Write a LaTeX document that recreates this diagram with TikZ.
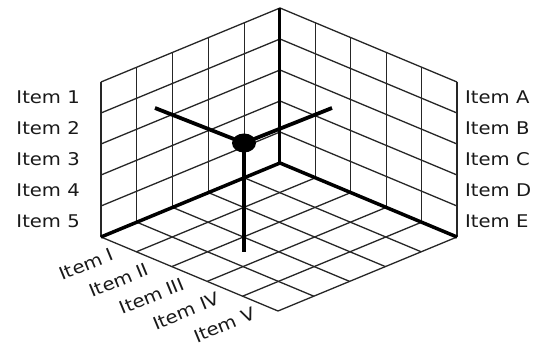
\documentclass[tikz,border=0pt]{standalone}
\usepackage{fontspec}
\usetikzlibrary{shapes.geometric}
\setmainfont{DejaVu Sans}
\newcommand\lbltxt[1]{\scalebox{1.12}[1]{#1}}
\begin{document}
\begin{tikzpicture}[
  x={(-35.8pt,-14.8pt)}, y={(35.4pt,-14.8pt)}, z={(0pt,31pt)},
  gridline/.style={line width=1.3pt, black!85},
  axisline/.style={line width=3.5pt, black},
  pointer/.style={line width=3.8pt, black},
  lbl/.style={font=\fontsize{17.5}{19}\selectfont, text=black!90, inner sep=0pt},
]
\useasboundingbox (-280pt,-189pt) rectangle (267pt,163pt);
\fill[white] (-280pt,-189pt) rectangle (267pt,163pt);
% left wall (x-z plane)
\foreach \i in {0,...,5} {
  \draw[gridline] (\i,0,0) -- (\i,0,5);
  \draw[gridline] (0,0,\i) -- (5,0,\i);
}
% right wall (y-z plane)
\foreach \i in {0,...,5} {
  \draw[gridline] (0,\i,0) -- (0,\i,5);
  \draw[gridline] (0,0,\i) -- (0,5,\i);
}
% floor (x-y plane)
\foreach \i in {0,...,5} {
  \draw[gridline] (\i,0,0) -- (\i,5,0);
  \draw[gridline] (0,\i,0) -- (5,\i,0);
}
% axes
\coordinate (O) at (0,0,0);
\coordinate (L) at (5,0,0);
\coordinate (R) at (0,5,0);
\coordinate (T) at (0,0,5);
\draw[axisline] (L) -- (O) -- (R);
\draw[line width=3pt] (O) -- (T);
% pointer
\node[ellipse, fill=black, minimum width=24pt, minimum height=19pt, inner sep=0pt] (dot) at (-36pt,20pt) {};
\coordinate (pl) at (-125pt,55pt);
\coordinate (pr) at (52pt,55pt);
\coordinate (pf) at (-36pt,-89pt);
\draw[pointer] (dot.center) -- (pl);
\draw[pointer] (dot.center) -- (pr);
\draw[pointer] (dot.center) -- (pf);
% left labels
\foreach \t/\k in {1/5,2/4,3/3,4/2,5/1} {
  \node[lbl, anchor=east, xshift=-21pt] (l\t) at (5,0,\k-0.5) {\lbltxt{Item \t}};
}
% right labels
\foreach \t/\k in {A/5,B/4,C/3,D/2,E/1} {
  \node[lbl, anchor=west, xshift=8pt] (r\t) at (0,5,\k-0.5) {\lbltxt{Item \t}};
}
% floor labels
\foreach \t/\k in {I/1,II/2,III/3,IV/4,V/5} {
  \node[lbl, anchor=east, rotate=22.5, xshift=-9pt, yshift=-6pt] (f\t) at (5,\k-0.5,0) {\lbltxt{Item \t}};
}
\end{tikzpicture}
\end{document}
